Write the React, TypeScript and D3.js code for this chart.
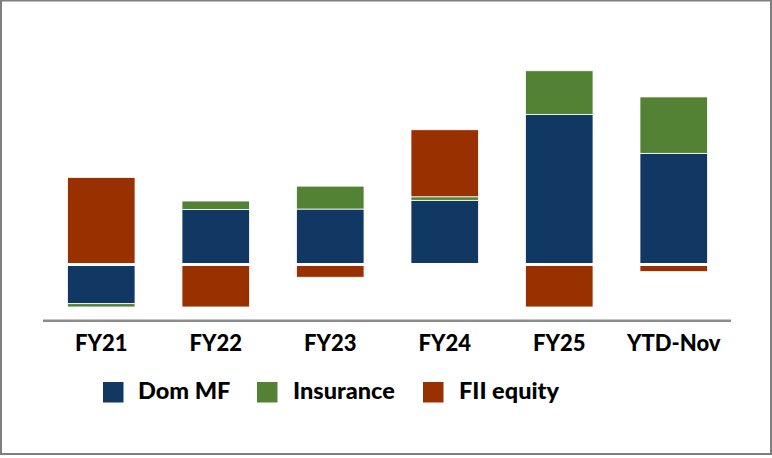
import React from "react";
import * as d3 from "d3";

const categories = ["FY21", "FY22", "FY23", "FY24", "FY25", "YTD-Nov"];
const domMF = [-16.6, 23.3, 23.5, 27.2, 63.6, 47.1];
const insurance = [-1.4, 3.6, 9.7, 1.5, 18.5, 23.9];
const fiiEquity = [36.9, -18.0, -5.4, 28.4, -18.0, -3.0];

const seriesKeys = ["Dom MF", "Insurance", "FII equity"];
const seriesColors = ["#113863", "#548235", "#993000"];

const W = 772;
const H = 458;

export default function App() {
  const rows = categories.map((c, i) => ({
    cat: c,
    "Dom MF": domMF[i],
    Insurance: insurance[i],
    "FII equity": fiiEquity[i],
  }));

  const x = d3.scaleBand().domain(categories).range([44, 731]).paddingInner(0.41).paddingOuter(0.205);
  const y = d3.scaleLinear().domain([-25, 85]).range([264.5 + 25 * 2.36, 264.5 - 85 * 2.36]);

  const stacked = d3
    .stack<any>()
    .keys(seriesKeys)
    .offset(d3.stackOffsetDiverging)(rows);

  const font = "Lato, 'Open Sans', sans-serif";
  const legendSquares = [103, 257, 423];
  const legendTexts = [138, 293, 459];

  return (
    <svg
      width={W}
      height={H}
      style={{ position: "absolute", left: 0, top: 0, background: "#fff" }}
    >
      <rect x={1} y={0.5} width={770} height={453.5} fill="#fff" stroke="#7f7f7f" strokeWidth={2} />
      {stacked.map((s, si) => (
        <g key={seriesKeys[si]} fill={seriesColors[si]}>
          {s.map((d, i) => {
            const y0 = y(d[0]);
            const y1 = y(d[1]);
            return (
              <rect
                key={i}
                x={x(categories[i])}
                width={x.bandwidth()}
                y={Math.min(y0, y1)}
                height={Math.abs(y1 - y0)}
                stroke="#fff"
                strokeWidth={0.8}
              />
            );
          })}
        </g>
      ))}
      <line x1={44} x2={731} y1={y(0)} y2={y(0)} stroke="#fff" strokeWidth={3} />
      <line x1={43} x2={731} y1={320.7} y2={320.7} stroke="#8c8c8c" strokeWidth={2.5} />
      {categories.map((c) => (
        <text
          key={c}
          x={(x(c) as number) + x.bandwidth() / 2}
          y={351}
          textAnchor="middle"
          fontFamily={font}
          fontWeight={900}
          fontSize={22}
          fill="#000"
        >
          {c}
        </text>
      ))}
      {seriesKeys.map((k, i) => (
        <g key={k}>
          <rect x={legendSquares[i]} y={382} width={20.5} height={20.5} fill={seriesColors[i]} />
          <text
            x={legendTexts[i]}
            y={399}
            fontFamily={font}
            fontWeight={900}
            fontSize={23.5}
            fill="#000"
          >
            {k}
          </text>
        </g>
      ))}
    </svg>
  );
}
